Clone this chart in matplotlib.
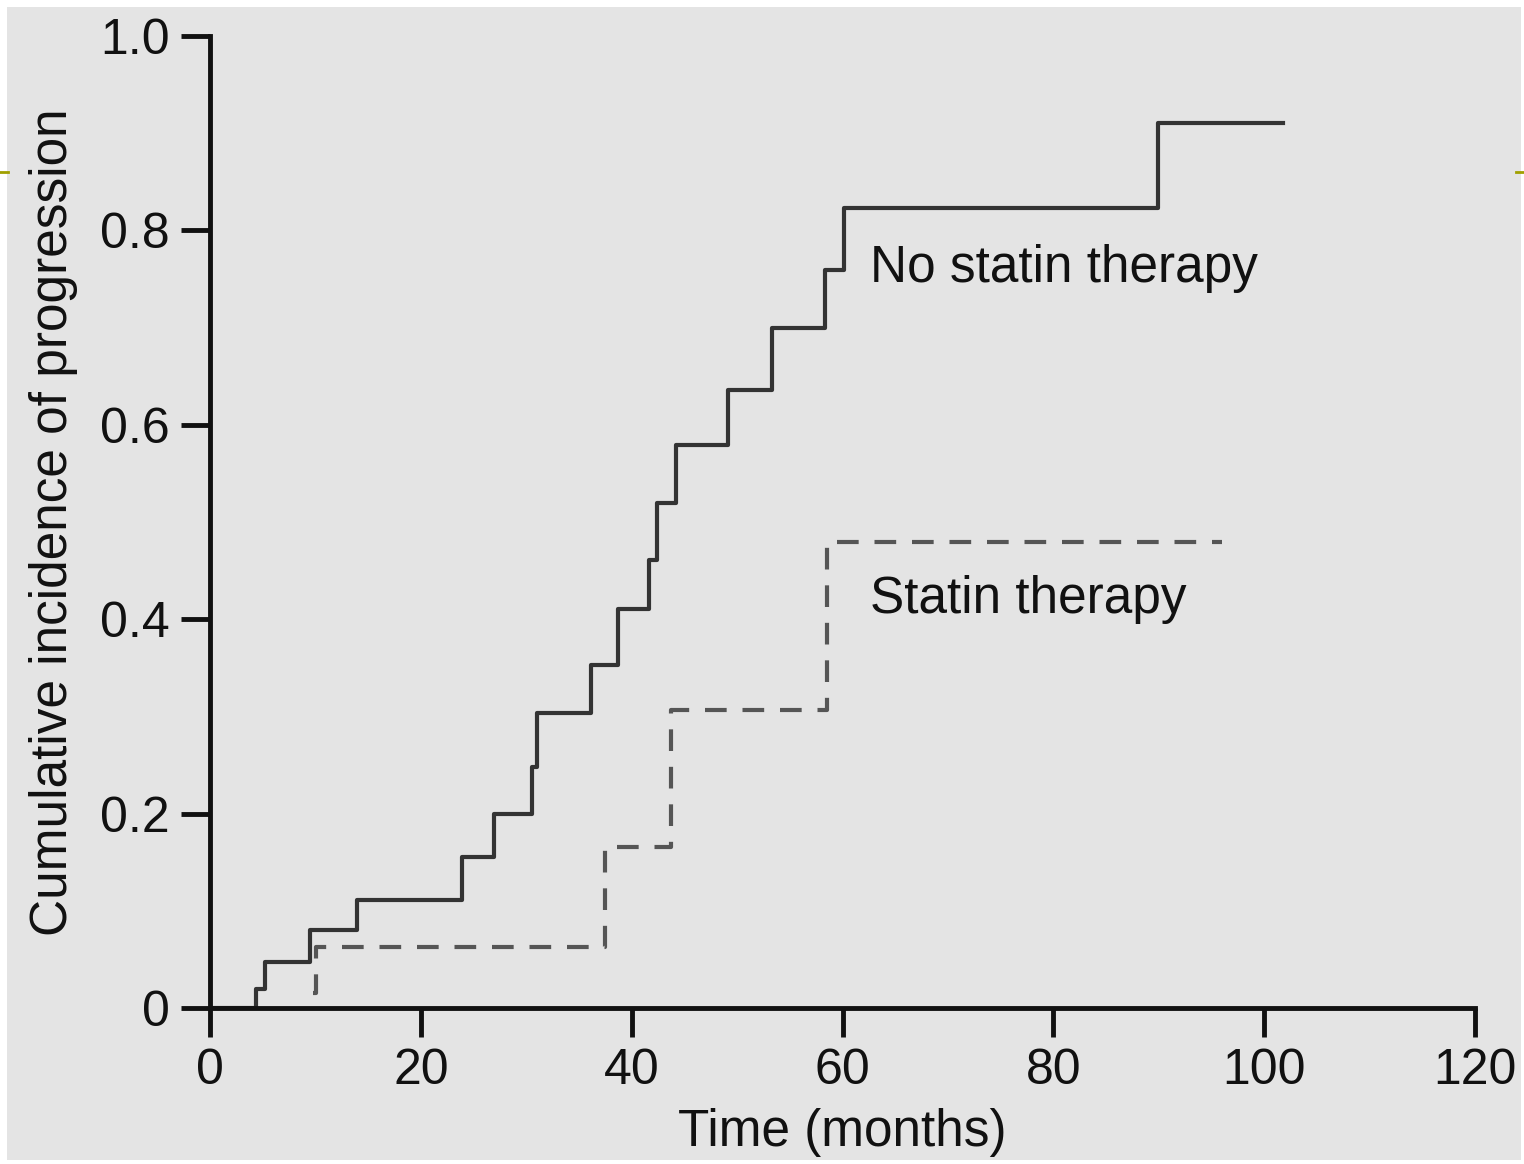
import matplotlib.pyplot as plt
import matplotlib.patches as patches

# No statin therapy (solid step curve)
nostatin_t = [0, 4.4, 5.2, 9.5, 13.9, 23.9, 26.9, 30.5, 31.0, 36.1, 38.7, 41.6, 42.4, 44.2, 49.1, 53.3, 58.3, 60.1, 89.9, 101.8]
nostatin_y = [0, 0.02, 0.047, 0.08, 0.111, 0.155, 0.2, 0.248, 0.303, 0.353, 0.41, 0.461, 0.52, 0.579, 0.636, 0.70, 0.759, 0.823, 0.911, 0.911]

# Statin therapy (dashed step curve)
statin_t = [9.8, 10.1, 37.5, 43.7, 58.5, 96.0]
statin_y = [0.015, 0.063, 0.166, 0.307, 0.479, 0.479]

xticks = [0, 20, 40, 60, 80, 100, 120]
yticks = [0, 0.2, 0.4, 0.6, 0.8, 1.0]
ytick_labels = ["0", "0.2", "0.4", "0.6", "0.8", "1.0"]

plt.rcParams['font.family'] = ['Liberation Sans', 'DejaVu Sans']

fig = plt.figure(figsize=(15.24, 11.64), dpi=100)
fig.patch.set_facecolor("white")
# grey slide panel
fig.patches.append(patches.Rectangle((7/1524, 4/1164), 1514/1524, 1153/1164,
                                     transform=fig.transFigure, facecolor="#e4e4e4",
                                     edgecolor="none", zorder=-10))
# small olive marks at the slide edges
fig.add_artist(plt.Line2D([0, 8/1524], [1-172/1164]*2, color="#a0a000", lw=2))
fig.add_artist(plt.Line2D([1516/1524, 1], [1-172/1164]*2, color="#a0a000", lw=2))

ax = fig.add_axes([210/1524, 1-1008/1164, 1265/1524, 972/1164])
ax.patch.set_alpha(0)
ax.set_zorder(5)

ax.step(nostatin_t, nostatin_y, where="post", color="#333333", lw=3)
ax.step(statin_t, statin_y, where="post", color="#555555", lw=3, linestyle=(0, (5.2, 3.8)))

ax.text(62.6, 0.761, "No statin therapy", fontsize=37, va="center", ha="left", color="#111111")
ax.text(62.6, 0.42, "Statin therapy", fontsize=37, va="center", ha="left", color="#111111")

ax.set_xlim(0, 120)
ax.set_ylim(0, 1.0)
ax.set_xticks(xticks)
ax.set_yticks(yticks)
ax.set_yticklabels(ytick_labels)
for s in ["top", "right"]:
    ax.spines[s].set_visible(False)
for s in ["left", "bottom"]:
    ax.spines[s].set_linewidth(3.5)
    ax.spines[s].set_color("#111111")
    ax.spines[s].set_capstyle("projecting")
ax.tick_params(direction="out", length=21, width=3.5, labelsize=36, pad=8, color="#111111", labelcolor="#111111")
ax.set_xlabel("Time (months)", fontsize=37, labelpad=10, color="#111111")
ax.set_ylabel("Cumulative incidence of progression", fontsize=37, labelpad=16, color="#111111")

fig.savefig("out.png", dpi=100, facecolor="white")
